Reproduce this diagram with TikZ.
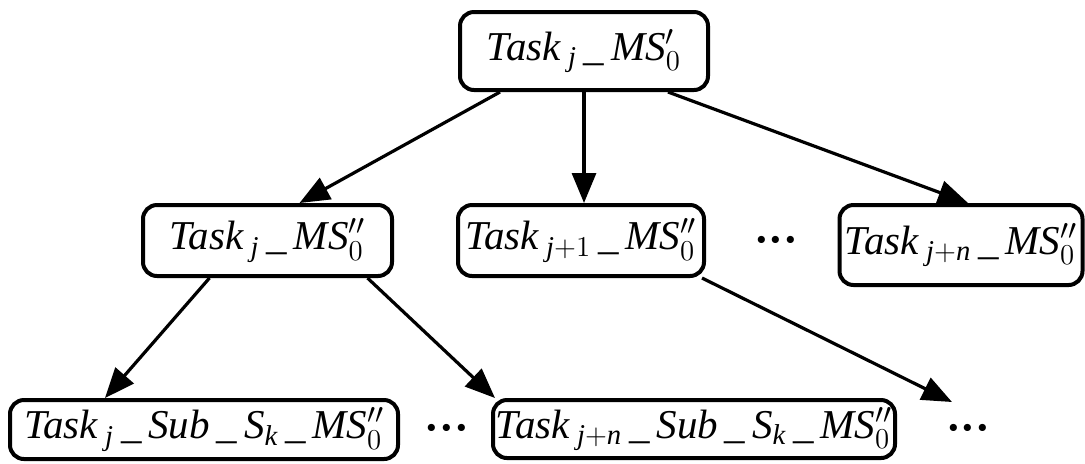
\documentclass[tikz,border=0pt]{standalone}
\usepackage{amsmath}
\usepackage{fontspec}
\setmainfont{Liberation Serif}
\usetikzlibrary{arrows.meta}
\newcommand{\Tsk}[1]{\textit{Task}\,$_{#1}$\,\_\,}
\newcommand{\Sb}{\textit{Sub}\,\_\,\textit{S}$_{\textit{k}}$\,\_\,}
\newcommand{\MSa}{\textit{MS}$'_{0}$}
\newcommand{\MSb}{\textit{MS}$''_{0}$}
\begin{document}
\begin{tikzpicture}[x=1pt, y=1pt,
  box/.style={draw, line width=2pt, rounded corners=7pt, inner sep=0pt,
    font=\fontsize{20.5}{24}\selectfont},
  arr/.style={line width=1.6pt, -{Triangle[length=15pt,width=12pt]}},
  dots/.style={font=\fontsize{22}{24}\selectfont\bfseries}]
  \useasboundingbox (0,0) rectangle (542.5,-231.5);
  \node[box, minimum width=124pt, minimum height=39pt] (root) at (292,-25.5) {\Tsk{\textit{j}}\MSa};
  \node[box, minimum width=124.5pt, minimum height=35.5pt] (tj) at (133.75,-120.25) {\Tsk{\textit{j}}\MSb};
  \node[box, minimum width=123pt, minimum height=35.5pt] (tj1) at (290.5,-120.25) {\Tsk{\textit{j}+1}\MSb};
  \node[box, minimum width=121.5pt, minimum height=40pt] (tjn) at (480.5,-122.5) {\Tsk{\textit{j}+\textit{n}}\MSb};
  \node[box, minimum width=194pt, minimum height=29.5pt] (sj) at (102,-214.75) {\Tsk{\textit{j}}\Sb\MSb};
  \node[box, minimum width=201pt, minimum height=29pt] (sjn) at (347,-214.5) {\Tsk{\textit{j}+\textit{n}}\Sb\MSb};
  \node[dots] (d1) at (388,-122.5) {···};
  \node[dots] (d2) at (223.5,-216.5) {···};
  \node[dots] (d3) at (484,-216.5) {···};
  \coordinate (e) at (476,-201);
  \draw[arr] ([xshift=-42pt]root.south) -- ([xshift=16pt]tj.north);
  \draw[arr] (root.south) -- (root.south |- tj1.north);
  \draw[arr] ([xshift=42pt]root.south) -- ([xshift=3.5pt]tjn.north);
  \draw[arr] ([xshift=-29pt]tj.south) -- ([xshift=-49.5pt]sj.north);
  \draw[arr] ([xshift=50pt]tj.south) -- ([xshift=-99.5pt]sjn.north);
  \draw[arr] ([xshift=-2pt]tj1.south east) -- (e);
\end{tikzpicture}
\end{document}
